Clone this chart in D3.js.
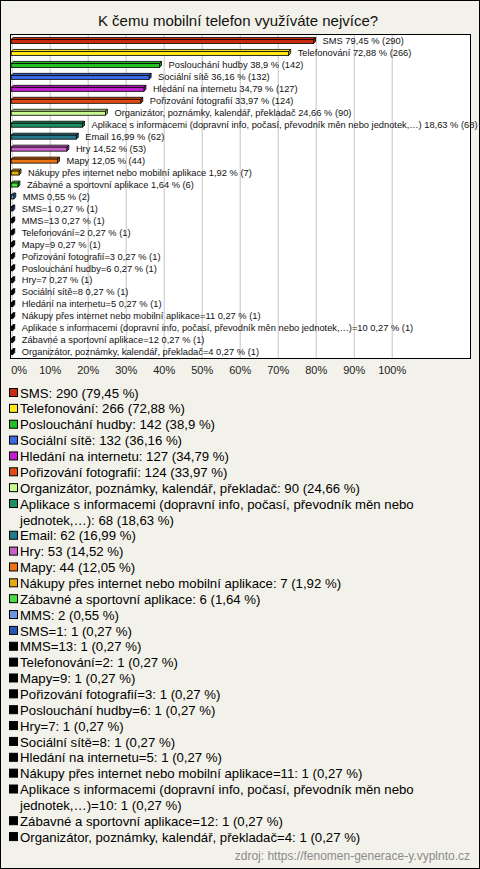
<!DOCTYPE html>
<html><head><meta charset="utf-8">
<script src="https://cdn.jsdelivr.net/npm/d3@7"></script>
<style>html,body{margin:0;padding:0;background:#f3f2ea}svg{display:block}text{font-family:"Liberation Sans",Arial,sans-serif}</style>
</head><body>
<script>
const title = "K čemu mobilní telefon využíváte nejvíce?";
const categories = [
  "SMS","Telefonování","Poslouchání hudby","Sociální sítě","Hledání na internetu",
  "Pořizování fotografií","Organizátor, poznámky, kalendář, překladač",
  "Aplikace s informacemi (dopravní info, počasí, převodník měn nebo jednotek,…)",
  "Email","Hry","Mapy","Nákupy přes internet nebo mobilní aplikace","Zábavné a sportovní aplikace",
  "MMS","SMS=1","MMS=13","Telefonování=2","Mapy=9","Pořizování fotografií=3","Poslouchání hudby=6",
  "Hry=7","Sociální sítě=8","Hledání na internetu=5","Nákupy přes internet nebo mobilní aplikace=11",
  "Aplikace s informacemi (dopravní info, počasí, převodník měn nebo jednotek,…)=10",
  "Zábavné a sportovní aplikace=12","Organizátor, poznámky, kalendář, překladač=4"
];
const counts = [290,266,142,132,127,124,90,68,62,53,44,7,6,2,1,1,1,1,1,1,1,1,1,1,1,1,1];
const percents = [79.45,72.88,38.9,36.16,34.79,33.97,24.66,18.63,16.99,14.52,12.05,1.92,1.64,0.55,0.27,0.27,0.27,0.27,0.27,0.27,0.27,0.27,0.27,0.27,0.27,0.27,0.27];
const colors = ["#cc2a10","#ffe81a","#22c022","#3b6ae6","#c020d0","#e24a12","#c8f890","#1c9060","#257a8a","#c860c8","#ec7414","#e0aa10","#48e040","#6c96e2","#2a55b8",
  "#000","#000","#000","#000","#000","#000","#000","#000","#000","#000","#000","#000"];
const tickValues = [0,10,20,30,40,50,60,70,80,90,100];
const source = "zdroj: https://fenomen-generace-y.vyplnto.cz";

const W = 480, H = 869;
const fmt = v => String(v).replace(".", ",");
const svg = d3.select("body").append("svg").attr("width", W).attr("height", H);
svg.append("rect").attr("x",0.5).attr("y",0.5).attr("width",W-1).attr("height",H-1)
  .attr("fill","#f3f2ea").attr("stroke","#000");
svg.append("text").attr("x",238).attr("y",26).attr("text-anchor","middle")
  .attr("font-size",15).attr("fill","#111").text(title);

const plot = {l:10.5, t:34.5, r:470.5, b:358.5};
svg.append("rect").attr("x",plot.l).attr("y",plot.t).attr("width",plot.r-plot.l).attr("height",plot.b-plot.t)
  .attr("fill","#fff");

const x = d3.scaleLinear().domain([0,100]).range([11.7, 391.7]);
const y = d3.scaleBand().domain(categories).range([35, 358]);

const axis = d3.axisBottom(x).tickValues(tickValues).tickFormat(d => d + "%")
  .tickSizeInner(-(358-35)).tickSizeOuter(0).tickPadding(8);
const ag = svg.append("g").attr("transform","translate(0,358)").call(axis);
ag.select(".domain").remove();
ag.selectAll(".tick line").attr("stroke","#c4c4c4");
ag.selectAll(".tick text").attr("font-size",11).attr("fill","#222")
  .attr("font-family",'"Liberation Sans",Arial,sans-serif');
ag.selectAll(".tick text").filter(d => d === 0).attr("text-anchor","start").attr("x",-1);

svg.append("rect").attr("x",plot.l).attr("y",plot.t).attr("width",plot.r-plot.l).attr("height",plot.b-plot.t)
  .attr("fill","none").attr("stroke","#000");

const d = 2;
const bars = svg.append("g");
categories.forEach((c,i) => {
  const cy = y(c) + y.bandwidth()/2;
  const x0 = x(0) - 0.5, x1 = x(percents[i]);
  const yT = cy - 1.5, yB = cy + 2.5;
  const col = colors[i];
  const dark = d3.color(col).darker(0.8);
  const g = bars.append("g").attr("stroke","#000").attr("stroke-width",0.8);
  g.append("path").attr("d", `M${x0},${yT}L${x0+d},${yT-d}L${x1+d},${yT-d}L${x1},${yT}Z`).attr("fill", col);
  g.append("path").attr("d", `M${x1},${yT}L${x1+d},${yT-d}L${x1+d},${yB-d}L${x1},${yB}Z`).attr("fill", dark);
  g.append("rect").attr("x",x0).attr("y",yT).attr("width",Math.max(0.5,x1-x0)).attr("height",yB-yT).attr("fill",col);
  svg.append("text").attr("x", x1 + d + 7).attr("y", cy).attr("dy","0.35em")
    .attr("font-size",9.3).attr("fill","#111")
    .text(`${c} ${fmt(percents[i])} % (${counts[i]})`);
});

// legend
const lg = svg.append("g");
const lineH = 15.86, maxW = 452;
let line = 0;
categories.forEach((c,i) => {
  const cy = 393 + line*lineH;
  lg.append("rect").attr("x",9.5).attr("y",cy-4.5).attr("width",8).attr("height",8)
    .attr("fill",colors[i]).attr("stroke","#000");
  const full = `${c}: ${counts[i]} (${fmt(percents[i])} %)`;
  const words = full.split(" ");
  let t = lg.append("text").attr("x",20).attr("y",cy).attr("dy","0.35em").attr("font-size",13.2).attr("fill","#000");
  let cur = [];
  words.forEach(w => {
    cur.push(w);
    t.text(cur.join(" "));
    if (t.node().getComputedTextLength() > maxW && cur.length > 1) {
      cur.pop();
      t.text(cur.join(" "));
      line++;
      t = lg.append("text").attr("x",20).attr("y",393 + line*lineH).attr("dy","0.35em").attr("font-size",13.2).attr("fill","#000");
      cur = [w];
      t.text(w);
    }
  });
  line++;
});

svg.append("text").attr("x",470).attr("y",860).attr("text-anchor","end")
  .attr("font-size",12).attr("fill","#8a8a8a").text(source);
</script>
</body></html>
